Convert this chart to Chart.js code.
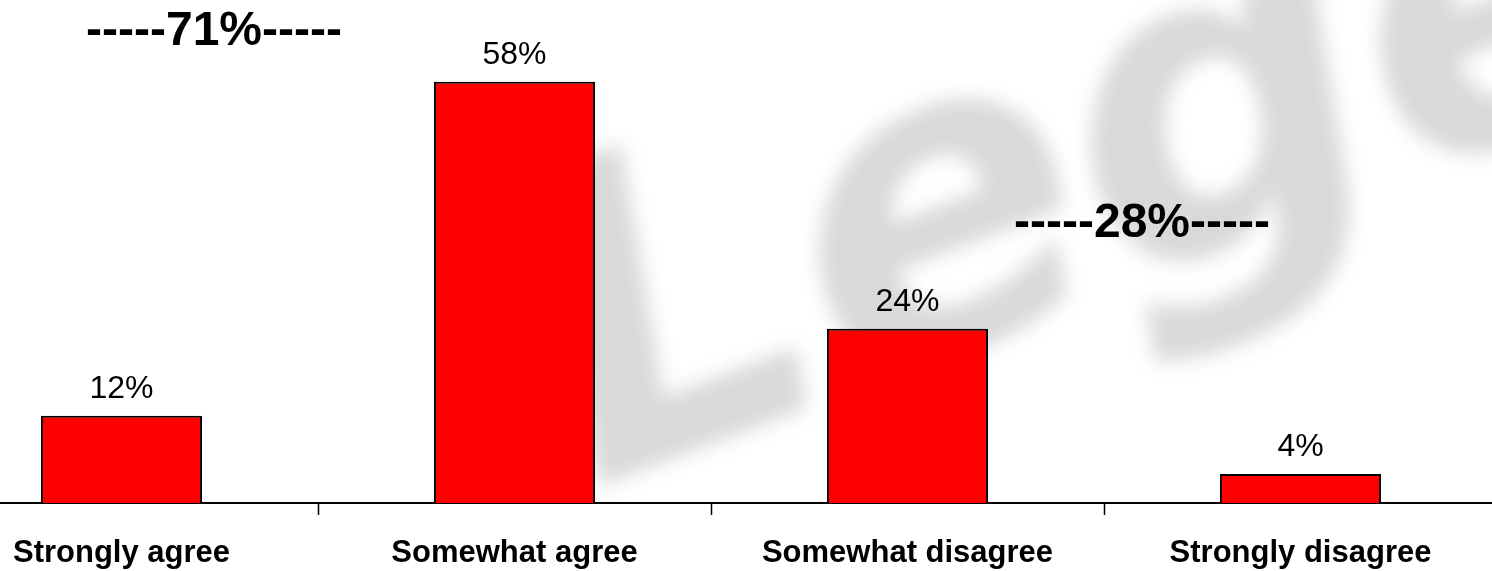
<!DOCTYPE html>
<html>
<head>
<meta charset="utf-8">
<script src="https://cdn.jsdelivr.net/npm/chart.js@4"></script>
<style>
  html, body { margin: 0; padding: 0; background: #fff; overflow: hidden; }
  #wrap { position: absolute; left: -75px; top: 0; width: 1572px; height: 571px; }
</style>
</head>
<body>
<div id="wrap"><canvas id="survey"></canvas></div>
<script>
// Chart data
var categories = ["Strongly agree", "Somewhat agree", "Somewhat disagree", "Strongly disagree"];
var values = [12, 58, 24, 4];
var groupLabels = ["-----71%-----", "-----28%-----"];

// Faded watermark behind the bars
var watermark = {
  id: "watermark",
  beforeDatasetsDraw: function (chart) {
    var ctx = chart.ctx;
    ctx.save();
    ctx.filter = "blur(10px)";
    ctx.fillStyle = "rgba(0,0,0,0.15)";
    ctx.translate(665, 490);
    ctx.rotate(-0.36);
    ctx.font = "italic bold 430px 'DejaVu Sans'";
    ctx.textBaseline = "alphabetic";
    ctx.fillText("Lege", 0, 0);
    ctx.restore();
  }
};

// Value labels above bars and the two group totals
var labels = {
  id: "labels",
  afterDatasetsDraw: function (chart) {
    var ctx = chart.ctx;
    var bars = chart.getDatasetMeta(0).data;
    ctx.save();
    ctx.fillStyle = "#000";
    ctx.textAlign = "center";
    ctx.textBaseline = "alphabetic";
    ctx.font = "32px 'Liberation Sans', Arial";
    bars.forEach(function (bar, i) {
      ctx.fillText(values[i] + "%", bar.x, bar.y - 18);
    });
    ctx.font = "bold 48px 'Liberation Sans', Arial";
    ctx.fillText(groupLabels[0], 75 + 214, 45);
    ctx.fillText(groupLabels[1], 75 + 1142, 237);
    ctx.restore();
  }
};

var survey = document.getElementById("survey").getContext("2d");
var chart_survey = new Chart(survey, {
  type: "bar",
  data: {
    labels: categories,
    datasets: [{
      data: values,
      backgroundColor: "#FF0000",
      borderColor: "#000000",
      borderWidth: 2,
      borderSkipped: "bottom",
      categoryPercentage: 1.0,
      barPercentage: 0.41
    }]
  },
  options: {
    responsive: true,
    maintainAspectRatio: false,
    animation: false,
    layout: {
      padding: { top: 2, bottom: 0, left: 0, right: 0 }
    },
    plugins: {
      legend: { display: false },
      tooltip: { enabled: false }
    },
    scales: {
      x: {
        afterFit: function (scale) { scale.height = 68; },
        grid: {
          offset: true,
          drawOnChartArea: false,
          drawTicks: true,
          tickLength: 12,
          tickWidth: 1.5,
          tickColor: "#000"
        },
        border: { display: true, color: "#000", width: 2 },
        ticks: {
          color: "#000",
          padding: 20,
          maxRotation: 0,
          font: { family: "'Liberation Sans', Arial", size: 31, weight: "bold" }
        }
      },
      y: {
        display: false,
        min: 0,
        max: 69
      }
    }
  },
  plugins: [watermark, labels]
});
</script>
</body>
</html>
